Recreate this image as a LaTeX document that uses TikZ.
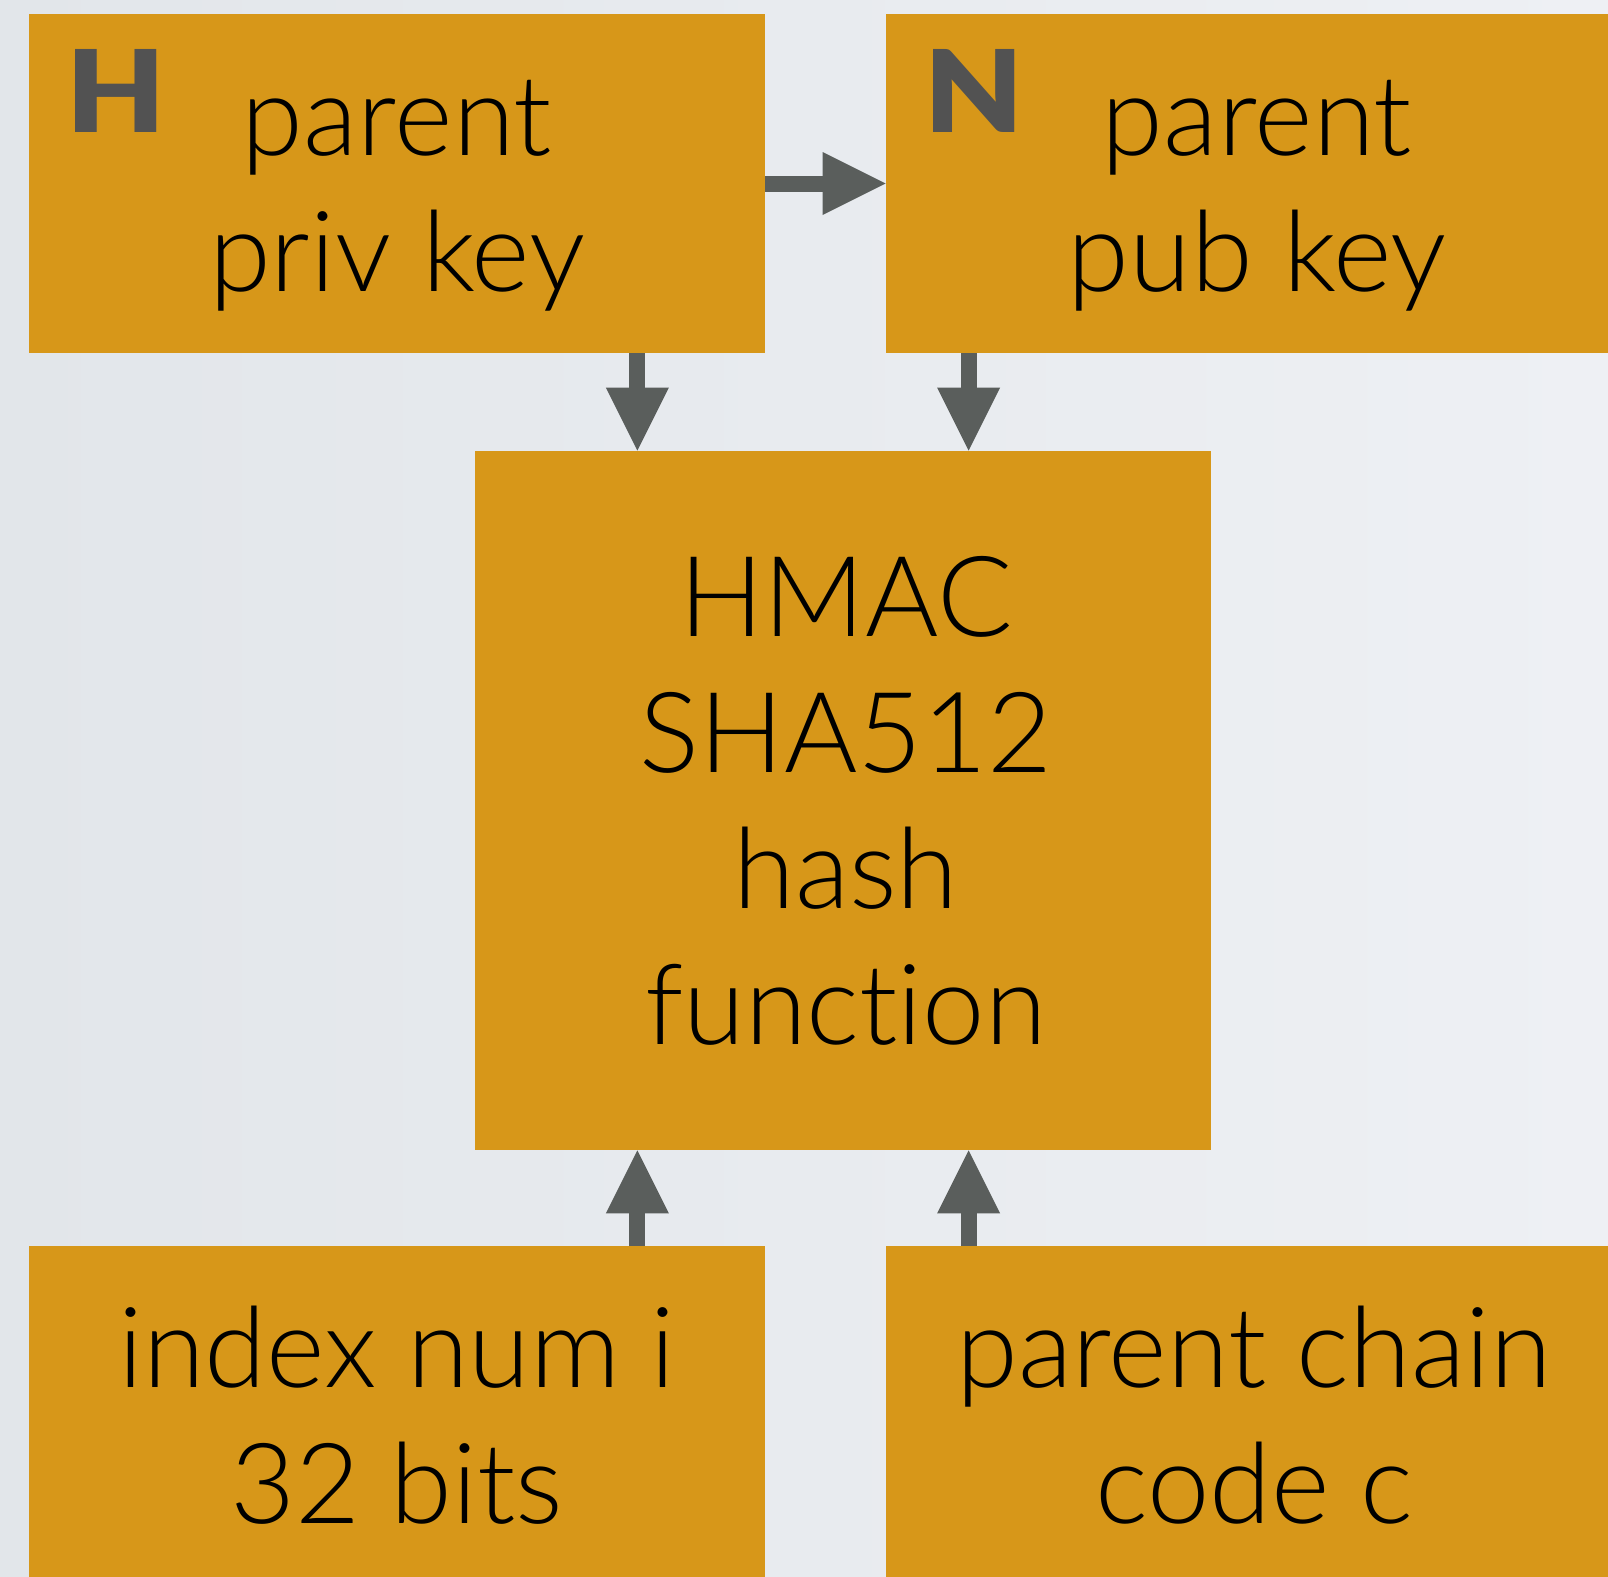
\documentclass[tikz,border=0pt]{standalone}
\usepackage{fontspec}
\setmainfont{Lato Light}[RawFeature={-liga}]
\newfontfamily\heavyfont{Lato Black}
\usetikzlibrary{arrows.meta}
\definecolor{boxfill}{HTML}{D79719}
\definecolor{arrowgray}{HTML}{5A5E5C}
\definecolor{badgegray}{HTML}{525252}
\definecolor{bgleft}{HTML}{E2E6EA}
\definecolor{bgright}{HTML}{EEF0F4}
\newcommand\stacked[1]{\begin{tabular}[t]{@{}c@{}}#1\end{tabular}}
\newcommand\widebadge[1]{\scalebox{1.12}[1]{#1}}

\begin{document}
\begin{tikzpicture}[x=0.5pt,y=-0.5pt,
  keybox/.style={fill=boxfill, draw=none, minimum width=368pt, minimum height=169.5pt, inner sep=0pt},
  hashbox/.style={fill=boxfill, draw=none, minimum width=368pt, minimum height=349.5pt, inner sep=0pt},
  caption/.style={anchor=base, inner sep=0pt, text=black, font=\fontsize{56}{68}\selectfont},
  badge/.style={anchor=base west, inner sep=0pt, text=badgegray, font=\heavyfont\fontsize{57}{60}\selectfont},
  flow/.style={draw=arrowgray, line width=8pt, -{Triangle[width=31.5pt,length=31.5pt,line width=0pt]}}
]
\useasboundingbox (0,0) rectangle (1608,1576);
\clip (0,0) rectangle (1608,1576);
\shade[left color=bgleft, right color=bgright] (0,0) rectangle (1608,1576);

% boxes
\node[keybox]  (priv)  at (397,183.5)  {};
\node[keybox]  (pub)   at (1254,183.5) {};
\node[hashbox] (hash)  at (843,800.5)  {};
\node[keybox]  (index) at (397,1415.5) {};
\node[keybox]  (chain) at (1254,1415.5) {};

% box texts
\node[caption] (privtxt)  at (397,155)  {\stacked{parent\\priv key}};
\node[caption] (pubtxt)   at (1257,155) {\stacked{parent\\pub key}};
\node[caption] (hashtxt)  at (846,636)  {\stacked{HMAC\\SHA512\\hash\\function}};
\node[caption] (indextxt) at (397,1387) {\stacked{index num i\\32 bits}};
\node[caption] (chaintxt) at (1254,1387) {\stacked{parent chain\\code c}};

% key type badges
\node[badge] (hbadge) at (66,132)  {\widebadge{H}};
\node[badge] (nbadge) at (924,132) {\widebadge{N}};

% connectors
\coordinate (privout)  at ([xshift=-64pt]priv.south east);
\coordinate (pubout)   at ([xshift=41.5pt]pub.south west);
\coordinate (indexout) at ([xshift=-64pt]index.north east);
\coordinate (chainout) at ([xshift=41.5pt]chain.north west);
\draw[flow] (priv.east) -- (pub.west);
\draw[flow] (privout) -- (privout |- hash.north);
\draw[flow] (pubout) -- (pubout |- hash.north);
\draw[flow] (indexout) -- (indexout |- hash.south);
\draw[flow] (chainout) -- (chainout |- hash.south);
\end{tikzpicture}
\end{document}
